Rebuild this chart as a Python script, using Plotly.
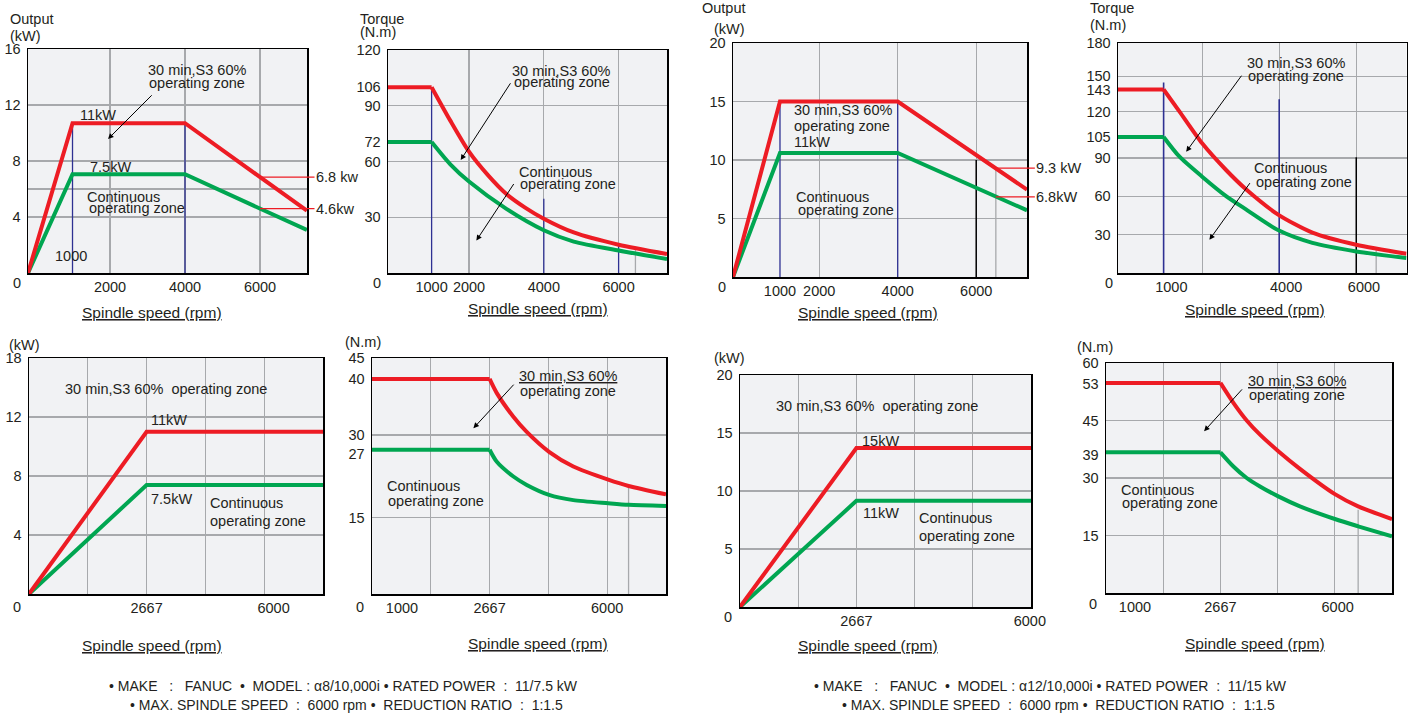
import plotly.graph_objects as go

W, H = 1409, 713
FONT = "Liberation Sans, Arial, Helvetica, sans-serif"
RED = "#ed1c24"
GREEN = "#00a651"
BLUE = "#2e3192"
GRID = "#a7a9ac"
BG = "#f1f2f4"
TXT = "#231f20"

# ======================= DATA =======================
# --- alpha8/10,000i : output (kW) vs spindle speed (rpm), top-left ---
a8_out_speed = [-187, 1000, 4000, 7250]
a8_out_30min = [0, 10.7, 10.7, 4.45]
a8_out_cont = [0, 7.05, 7.05, 3.07]
a8_out_marks_x = [1000, 4000]          # blue speed markers
a8_out_marks_top = [10.7, 10.7]

# --- alpha8/10,000i : torque (N.m) vs spindle speed, top second ---
a8_tq_speed_30 = [-166, 1000, 1500, 2000, 2500, 3000, 3500, 4000, 4800, 6000, 7294]
a8_tq_30min = [100, 100, 82, 65.3, 52.8, 42.5, 35.2, 29.2, 21.8, 15.2, 10.2]
a8_tq_speed_ct = [-166, 1000, 1500, 2000, 3000, 4000, 4800, 6000, 7294]
a8_tq_cont = [70.5, 70.5, 58.5, 49.2, 34.5, 23.0, 16.9, 12.1, 7.5]
a8_tq_marks_x = [1000, 4000, 6000]
a8_tq_marks_top = [100, 40, 14.8]
a8_tq_gray_x = [6450]
a8_tq_gray_top = [12.5]

# --- alpha12/10,000i : output (kW), top third ---
a12_out_speed = [-197, 1000, 4000, 7294]
a12_out_30min = [0, 15.0, 15.0, 7.47]
a12_out_cont = [0, 10.6, 10.6, 5.7]
a12_out_marks_x = [1000, 4000]
a12_out_marks_top = [15, 15]
a12_out_black_x = [6000]
a12_out_black_top = [10.0]
a12_out_gray_x = [6500]
a12_out_gray_top = [9.3]

# --- alpha12/10,000i : torque (N.m), top right ---
a12_tq_speed = [-184, 1000, 1413, 2000, 2621, 3138, 3982, 4862, 6000, 7304]
a12_tq_30min = [143.6, 143.6, 126.3, 101.5, 80.6, 65.5, 45.5, 31.6, 22.1, 15.1]
a12_tq_cont = [106.5, 106.5, 91, 75.4, 60.2, 49.8, 33.4, 23.6, 16.9, 11.7]
a12_tq_marks_x = [1000, 4000]
a12_tq_marks_top = [149, 136]
a12_tq_black_x = [6000]
a12_tq_black_top = [90.5]
a12_tq_gray_x = [6517]
a12_tq_gray_top = [18]

# --- spindle side (ratio 1:1.5), alpha8 output, bottom-left ---
s8_out_speed = [0, 2667, 6667]
s8_out_30min = [0, 11.0, 11.0]
s8_out_cont = [0, 7.39, 7.39]

# --- spindle side alpha8 torque ---
s8_tq_speed = [0, 2667, 2830, 3206, 3509, 4015, 4565, 5357, 5818, 6667]
s8_tq_30min = [41, 41, 38.3, 33.8, 30.9, 27.1, 24.3, 21.8, 20.6, 19.0]
s8_tq_cont = [27.5, 27.5, 25.2, 22.4, 20.8, 18.9, 17.9, 17.3, 17.0, 16.8]
s8_tq_gray_x = [5818]
s8_tq_gray_top = [20.5]

# --- spindle side alpha12 output ---
s12_out_speed = [0, 2667, 6667]
s12_out_30min = [0, 13.7, 13.7]
s12_out_cont = [0, 9.15, 9.15]

# --- spindle side alpha12 torque ---
s12_tq_speed = [0, 2667, 2970, 3280, 3590, 4017, 4521, 5336, 5878, 6667]
s12_tq_30min = [54.8, 54.8, 49.6, 45.0, 41.3, 37.0, 32.4, 25.8, 22.6, 19.3]
s12_tq_cont = [36.7, 36.7, 33.0, 30.0, 27.8, 25.2, 22.6, 19.3, 17.4, 14.8]
s12_tq_gray_x = [5878]
s12_tq_gray_top = [21.7]

# --- tick labels (positions, texts) ---
top_x_ticks_1 = ([2000, 4000, 6000], ["2000", "4000", "6000"])
top_x_ticks_2 = ([1000, 2000, 4000, 6000], ["1000", "2000", "4000", "6000"])
top_x_ticks_3 = ([1000, 2000, 4000, 6000], ["1000", "2000", "4000", "6000"])
top_x_ticks_4 = ([1200, 4180, 6200], ["1000", "4000", "6000"])
bot_x_ticks_5 = ([2667, 5547], ["2667", "6000"])
bot_x_ticks_6 = ([680, 2667, 5333], ["1000", "2667", "6000"])
bot_x_ticks_7 = ([2667, 6640], ["2667", "6000"])
bot_x_ticks_8 = ([675, 2667, 5400], ["1000", "2667", "6000"])

y_ticks_1 = ([4, 8, 12, 16], ["4", "8", "12", "16"])
y_ticks_2 = ([30, 60, 70.5, 90, 100, 120], ["30", "60", "72", "90", "106", "120"])
y_ticks_3 = ([5, 10, 15, 20], ["5", "10", "15", "20"])
y_ticks_4 = ([30, 60, 90, 106.2, 126.2, 143.6, 154, 180],
             ["30", "60", "90", "105", "120", "143", "150", "180"])
y_ticks_5 = ([4, 8, 12, 16], ["4", "8", "12", "18"])
y_ticks_6 = ([14.6, 26.8, 30.3, 41.0, 45], ["15", "27", "30", "40", "45"])
y_ticks_7 = ([5, 10, 15, 20], ["5", "10", "15", "20"])
y_ticks_8 = ([15, 30, 36.1, 45, 54.5, 60], ["15", "30", "39", "45", "53", "60"])

# ======================= LAYOUT SPEC =======================
# pixel boxes (left, right, top, bottom), axis ranges, grid positions
panels = [
    dict(box=(28, 307, 49, 273), xr=[-187, 7253], yr=[0, 16], xt=top_x_ticks_1, yt=y_ticks_1,
         xg=[2000, 4000, 6000], yg=[4, 6, 8, 12]),
    dict(box=(388, 667, 50, 273), xr=[-166, 7294], yr=[0, 120], xt=top_x_ticks_2, yt=y_ticks_2,
         xg=[2000, 4000, 6000], yg=[30, 60, 90]),
    dict(box=(733, 1027, 43, 277), xr=[-197, 7294], yr=[0, 20], xt=top_x_ticks_3, yt=y_ticks_3,
         xg=[2000, 4000, 6000], yg=[5, 10, 15]),
    dict(box=(1118, 1406.5, 43, 273), xr=[-184, 7304], yr=[0, 180], xt=top_x_ticks_4, yt=y_ticks_4,
         xg=[2000, 4000, 6000], yg=[30, 60, 90, 126.2, 154]),
    dict(box=(29, 323, 358, 594), xr=[0, 6667], yr=[0, 16], xt=bot_x_ticks_5, yt=y_ticks_5,
         xg=[1333, 2667, 4000, 5333], yg=[4, 8, 12]),
    dict(box=(372, 666, 358, 594), xr=[0, 6667], yr=[0, 45], xt=bot_x_ticks_6, yt=y_ticks_6,
         xg=[1333, 2667, 4000, 5333], yg=[14.6, 30.3]),
    dict(box=(740, 1031, 375, 607), xr=[0, 6667], yr=[0, 20], xt=bot_x_ticks_7, yt=y_ticks_7,
         xg=[1333, 2667, 4000, 5333], yg=[5, 10, 15]),
    dict(box=(1106, 1392, 363, 593), xr=[0, 6667], yr=[0, 60], xt=bot_x_ticks_8, yt=y_ticks_8,
         xg=[1333, 2667, 4000, 5333], yg=[15, 30, 45]),
]

fig = go.Figure()
layout = dict(width=W, height=H, margin=dict(l=0, r=0, t=0, b=0, pad=0), autosize=False,
              paper_bgcolor="white", plot_bgcolor=BG, showlegend=False,
              font=dict(family=FONT, size=15, color=TXT))


def xref(i):
    return "x" if i == 1 else f"x{i}"


def yref(i):
    return "y" if i == 1 else f"y{i}"


for i, p in enumerate(panels, start=1):
    l, r, t, b = p["box"]
    common = dict(showline=True, mirror=True, linecolor="black", linewidth=1.5,
                  ticks="", zeroline=False, showgrid=False, fixedrange=True, automargin=False,
                  tickfont=dict(family=FONT, size=14.5, color=TXT), tickmode="array")
    xa = dict(common, domain=[l / W, r / W], range=p["xr"], anchor=yref(i),
              tickvals=p["xt"][0], ticktext=p["xt"][1],
              minor=dict(tickmode="array", tickvals=p["xg"], showgrid=True,
                         gridcolor=GRID, gridwidth=1.3, ticks=""))
    ya = dict(common, domain=[1 - b / H, 1 - t / H], range=p["yr"], anchor=xref(i),
              tickvals=p["yt"][0], ticktext=p["yt"][1], ticklabelstandoff=3,
              minor=dict(tickmode="array", tickvals=p["yg"], showgrid=True,
                         gridcolor=GRID, gridwidth=1.3, ticks=""))
    layout["xaxis" if i == 1 else f"xaxis{i}"] = xa
    layout["yaxis" if i == 1 else f"yaxis{i}"] = ya


def vsegs(i, xs, tops, color, width=1.3):
    X, Y = [], []
    for x, tp in zip(xs, tops):
        X += [x, x, None]
        Y += [0, tp, None]
    fig.add_trace(go.Scatter(x=X, y=Y, mode="lines", xaxis=xref(i), yaxis=yref(i),
                             line=dict(color=color, width=width), hoverinfo="skip"))


def curve(i, xs, ys, color, knee=None):
    if knee is None:
        fig.add_trace(go.Scatter(x=xs, y=ys, mode="lines", xaxis=xref(i), yaxis=yref(i),
                                 line=dict(color=color, width=4), hoverinfo="skip"))
    else:
        fig.add_trace(go.Scatter(x=xs[:knee + 1], y=ys[:knee + 1], mode="lines",
                                 xaxis=xref(i), yaxis=yref(i),
                                 line=dict(color=color, width=4), hoverinfo="skip"))
        fig.add_trace(go.Scatter(x=xs[knee:], y=ys[knee:], mode="lines", line_shape="spline",
                                 xaxis=xref(i), yaxis=yref(i),
                                 line=dict(color=color, width=4, smoothing=0.7), hoverinfo="skip"))


# marker lines (below curves)
vsegs(1, a8_out_marks_x, a8_out_marks_top, BLUE)
vsegs(2, a8_tq_marks_x, a8_tq_marks_top, BLUE)
vsegs(2, a8_tq_gray_x, a8_tq_gray_top, GRID)
vsegs(3, a12_out_marks_x, a12_out_marks_top, BLUE)
vsegs(3, a12_out_black_x, a12_out_black_top, "black", 1.5)
vsegs(3, a12_out_gray_x, a12_out_gray_top, GRID)
vsegs(4, a12_tq_marks_x, a12_tq_marks_top, BLUE, 1.6)
vsegs(4, a12_tq_black_x, a12_tq_black_top, "black", 1.5)
vsegs(4, a12_tq_gray_x, a12_tq_gray_top, GRID)
vsegs(6, s8_tq_gray_x, s8_tq_gray_top, GRID)
vsegs(8, s12_tq_gray_x, s12_tq_gray_top, GRID)

# curves
curve(1, a8_out_speed, a8_out_cont, GREEN)
curve(1, a8_out_speed, a8_out_30min, RED)
curve(2, a8_tq_speed_ct, a8_tq_cont, GREEN, knee=1)
curve(2, a8_tq_speed_30, a8_tq_30min, RED, knee=1)
curve(3, a12_out_speed, a12_out_cont, GREEN)
curve(3, a12_out_speed, a12_out_30min, RED)
curve(4, a12_tq_speed, a12_tq_cont, GREEN, knee=1)
curve(4, a12_tq_speed, a12_tq_30min, RED, knee=1)
curve(5, s8_out_speed, s8_out_cont, GREEN)
curve(5, s8_out_speed, s8_out_30min, RED)
curve(6, s8_tq_speed, s8_tq_cont, GREEN, knee=1)
curve(6, s8_tq_speed, s8_tq_30min, RED, knee=1)
curve(7, s12_out_speed, s12_out_cont, GREEN)
curve(7, s12_out_speed, s12_out_30min, RED)
curve(8, s12_tq_speed, s12_tq_cont, GREEN, knee=1)
curve(8, s12_tq_speed, s12_tq_30min, RED, knee=1)

ann = []
FS = 14.5


def txt(i, x, y, s, anchor="center", size=FS):
    ann.append(dict(xref=xref(i), yref=yref(i), x=x, y=y, text=s, showarrow=False,
                    xanchor=anchor, yanchor="middle", font=dict(family=FONT, size=size, color=TXT)))


def ptxt(px, py, s, anchor="left", size=FS):
    ann.append(dict(xref="paper", yref="paper", x=px / W, y=1 - py / H, text=s, showarrow=False,
                    xanchor=anchor, yanchor="middle", font=dict(family=FONT, size=size, color=TXT)))


def arrow(i, tail, tip):
    ann.append(dict(xref=xref(i), yref=yref(i), axref=xref(i), ayref=yref(i),
                    x=tip[0], y=tip[1], ax=tail[0], ay=tail[1], text="", showarrow=True,
                    arrowhead=2, arrowsize=1.1, arrowwidth=1, arrowcolor="black"))


def callout(i, x, y, s, dx):
    ann.append(dict(xref=xref(i), yref=yref(i), x=x, y=y, ax=dx, ay=0, text=s, showarrow=True,
                    arrowhead=0, arrowwidth=1.2, arrowcolor=RED, standoff=0,
                    font=dict(family=FONT, size=FS, color=TXT)))


# panel 1
txt(1, 1143, 11.3, "11kW", "left")
txt(1, 1413, 7.6, "7.5kW", "left")
txt(1, 4322, 14.5, "30 min,S3 60%")
txt(1, 4322, 13.57, "operating zone")
txt(1, 1331, 5.43, "Continuous", "left")
txt(1, 1393, 4.64, "operating zone", "left")
txt(1, 956, 1.24, "1000")
arrow(1, (3152, 12.8), (1947, 9.57))
callout(1, 6000, 6.85, "6.8 kw", 77)
callout(1, 6000, 4.6, "4.6kw", 75)

# panel 2
txt(2, 4471, 108.6, "30 min,S3 60%")
txt(2, 4487, 102.7, "operating zone")
arrow(2, (3134, 102.9), (1778, 60.8))
txt(2, 4310, 54.2, "Continuous")
txt(2, 4648, 48.0, "operating zone")
arrow(2, (3222, 48.7), (2198, 17.5))

# panel 3
txt(3, 1294, 14.25, "30 min,S3 60%", "left")
txt(3, 1294, 12.88, "operating zone", "left")
txt(3, 1294, 11.54, "11kW", "left")
txt(3, 1353, 6.84, "Continuous", "left")
txt(3, 1404, 5.76, "operating zone", "left")
callout(3, 6500, 9.3, "9.3 kW", 63)
callout(3, 6500, 6.85, "6.8kW", 61)

# panel 4
txt(4, 4431, 164.4, "30 min,S3 60%")
txt(4, 4447, 154, "operating zone")
arrow(4, (3050, 155.6), (1586, 94.9))
txt(4, 4302, 82.2, "Continuous")
txt(4, 4646, 71.5, "operating zone")
arrow(4, (3267, 71.5), (2189, 26))

# panel 5
txt(5, 3116, 13.93, "30 min,S3 60%\u00a0\u00a0operating zone")
txt(5, 2722, 11.79, "11kW", "left")
txt(5, 2722, 6.44, "7.5kW", "left")
txt(5, 4060, 6.17, "Continuous", "left")
txt(5, 4060, 4.92, "operating zone", "left")

# panel 6
txt(6, 4451, 41.5, "<u>30 min,S3 60%</u>")
txt(6, 4451, 38.7, "operating zone")
arrow(6, (3244, 40.2), (2300, 31.6))
txt(6, 301, 20.5, "Continuous", "left")
txt(6, 324, 17.8, "operating zone", "left")

# panel 7
txt(7, 3137, 17.3, "30 min,S3 60%\u00a0\u00a0operating zone")
txt(7, 2754, 14.3, "15kW", "left")
txt(7, 2777, 8.09, "11kW", "left")
txt(7, 4055, 7.66, "Continuous", "left")
txt(7, 4055, 6.08, "operating zone", "left")

# panel 8
txt(8, 4445, 55.2, "<u>30 min,S3 60%</u>")
txt(8, 4445, 51.7, "operating zone")
arrow(8, (3202, 53.5), (2287, 42.2))
txt(8, 293, 26.9, "Continuous", "left")
txt(8, 316, 23.6, "operating zone", "left")

# axis titles / units / zero labels (paper pixels)
ptxt(8, 19, "Output"); ptxt(8, 36, "(kW)"); ptxt(17, 283, "0", "center")
ptxt(358, 19, "Torque"); ptxt(358, 32, "(N.m)"); ptxt(377, 283, "0", "center")
ptxt(700, 8, "Output"); ptxt(712, 29, "(kW)"); ptxt(722, 287, "0", "center")
ptxt(1088, 8, "Torque"); ptxt(1088, 25, "(N.m)"); ptxt(1109, 283, "0", "center")
ptxt(7, 345, "(kW)"); ptxt(17, 607, "0", "center")
ptxt(343, 342, "(N.m)"); ptxt(360, 607, "0", "center")
ptxt(712, 358, "(kW)"); ptxt(728, 617, "0", "center")
ptxt(1075, 347, "(N.m)"); ptxt(1093, 604, "0", "center")

for cx, cy in [(152, 312), (538, 308), (868, 312), (1255, 309),
               (152, 645), (538, 643), (868, 645), (1255, 643)]:
    ptxt(cx, cy, "<u>Spindle speed (rpm)</u>", "center", 15.5)

NB = "\u00a0"
line1_l = f"•{NB}MAKE{NB*3}:{NB*3}FANUC{NB*2}•{NB*2}MODEL{NB}:{NB}α8/10,000i{NB}•{NB}RATED{NB}POWER{NB*2}:{NB*2}11/7.5{NB}kW"
line2 = f"•{NB}MAX.{NB}SPINDLE{NB}SPEED{NB*2}:{NB*2}6000{NB}rpm{NB}•{NB*2}REDUCTION{NB}RATIO{NB*2}:{NB*2}1:1.5"
line1_r = f"•{NB}MAKE{NB*3}:{NB*3}FANUC{NB*2}•{NB*2}MODEL{NB}:{NB}α12/10,000i{NB}•{NB}RATED{NB}POWER{NB*2}:{NB*2}11/15{NB}kW"
ptxt(107, 686, line1_l, "left", 14)
ptxt(128, 705, line2, "left", 14)
ptxt(812, 686, line1_r, "left", 14)
ptxt(840, 705, line2, "left", 14)

layout["annotations"] = ann
fig.update_layout(**layout)
fig.write_html("out.html",
               config={"displayModeBar": False, "staticPlot": True},
               post_script="document.body.style.margin='0px';"
                           "document.body.style.overflow='hidden';")
